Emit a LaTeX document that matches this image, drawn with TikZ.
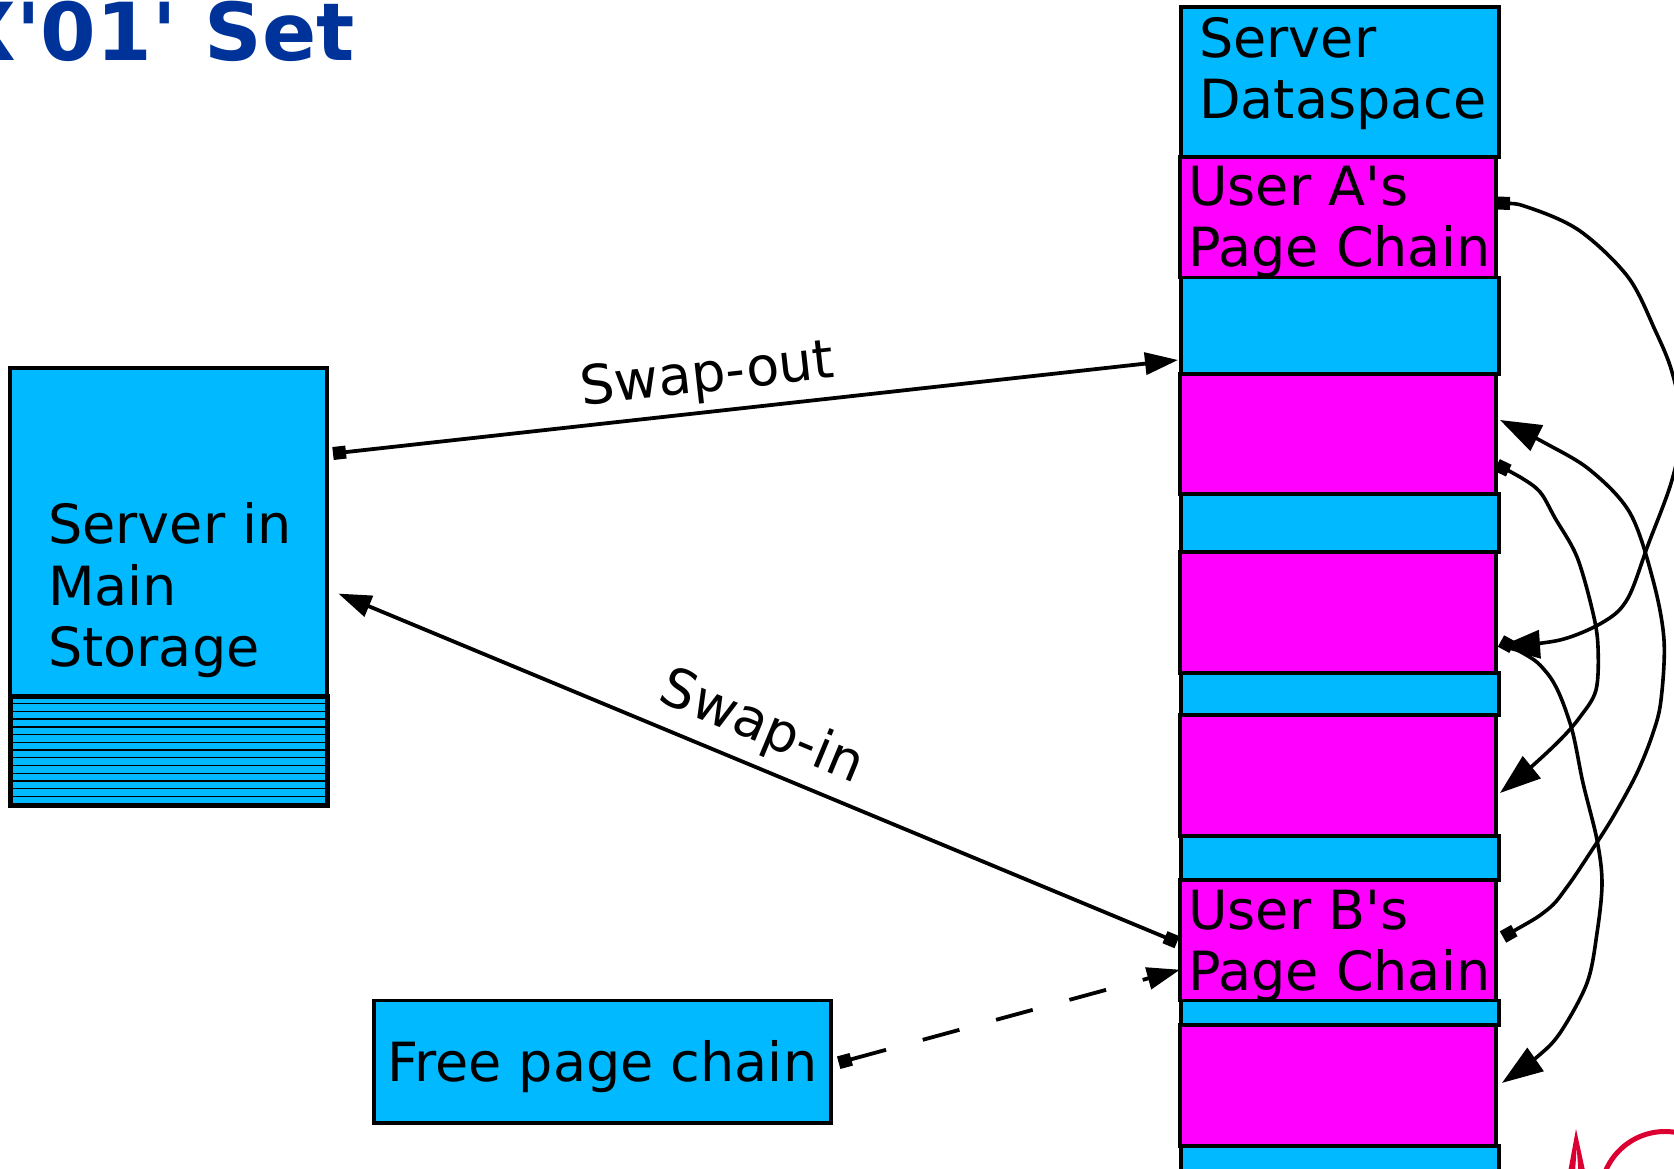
\documentclass[tikz,border=0pt]{standalone}
\usepackage{fontspec}
\newfontfamily\dejavu{DejaVu Sans}
\usetikzlibrary{arrows.meta,calc}
\definecolor{cellblue}{HTML}{00B9FF}
\definecolor{cellpink}{HTML}{FF00FF}
\definecolor{titleblue}{HTML}{003399}
\definecolor{logored}{HTML}{DC0032}
\begin{document}
\begin{tikzpicture}[x=1pt,y=-1pt,
  every node/.style={font=\dejavu\fontsize{54}{61.3}\selectfont},
  cell/.style={draw=black, line width=3.8pt, inner sep=0pt, outer sep=0pt,
    minimum width=318pt, anchor=north west},
  bluecell/.style={cell, fill=cellblue},
  pinkcell/.style={cell, fill=cellpink, minimum width=316pt},
  celltext/.style={inner sep=0pt, anchor=base west, align=left},
  swaplabel/.style={inner sep=0pt, sloped},
  link/.style={line width=3.8pt,
    {Square[length=13pt,width=13pt]}-{Triangle[length=33pt,width=22pt]}},
  chain/.style={line width=3.6pt,
    {Square[length=13pt,width=13pt]}-{Triangle[length=41pt,width=28pt]}},
  stripe/.style={line width=1.4pt, black},
]
\useasboundingbox (0,0) rectangle (1674,1169);
\begin{scope}
\clip (0,0) rectangle (1674,1169);

% heading
\node[anchor=base east, inner sep=0pt, text=titleblue,
  font=\dejavu\bfseries\fontsize{80}{90}\selectfont] (title) at (355,61) {X'01' Set};

% server dataspace column
\node[bluecell, minimum height=150pt]   (ds) at (1181,7) {};
\node[bluecell, minimum height=96.2pt]  (g1) at (1181,277.5) {};
\node[bluecell, minimum height=57.7pt]  (g2) at (1181,494.3) {};
\node[bluecell, minimum height=42.7pt]  (g3) at (1181,672.6) {};
\node[bluecell, minimum height=43.7pt]  (g4) at (1181,836) {};
\node[bluecell, minimum height=24.5pt]  (g5) at (1181,1000.4) {};
\node[bluecell, minimum height=60pt]    (g6) at (1181,1145.6) {};
\node[pinkcell, minimum height=120.5pt] (ua)  at (1180,157) {};
\node[pinkcell, minimum height=120.6pt] (pg2) at (1180,373.7) {};
\node[pinkcell, minimum height=120.6pt] (pg3) at (1180,552) {};
\node[pinkcell, minimum height=120.7pt] (pg4) at (1180,715.3) {};
\node[pinkcell, minimum height=120.7pt] (ub)  at (1180,879.7) {};
\node[pinkcell, minimum height=120.7pt] (pg5) at (1180,1024.9) {};
% multi-line labels are anchored at the baseline of their last line
\node[celltext] (dstext) at (1199,119) {Server\\Dataspace};
\node[celltext] (uatext) at (1188,266.5) {User A's\\Page Chain};
\node[celltext] (ubtext) at (1188,990.5) {User B's\\Page Chain};

% server in main storage
\node[draw=black, line width=3.8pt, fill=cellblue, inner sep=0pt, outer sep=0pt,
  minimum width=317pt, minimum height=328pt, anchor=north west] (main) at (10,368) {};
\node[celltext] (maintext) at (48,666.5) {Server in\\Main\\Storage};
\node[draw=black, line width=5pt, fill=cellblue, inner sep=0pt, outer sep=0pt,
  minimum width=317pt, minimum height=109.5pt, anchor=north west] (store) at (10,696) {};
\foreach \i in {1,...,13}
  \draw[stripe] ([yshift=-7.72*\i pt]store.north west) -- ([yshift=-7.72*\i pt]store.north east);
\draw[line width=5pt] (store.north west) rectangle (store.south east);

% free page chain
\node[draw=black, line width=3.8pt, fill=cellblue, inner sep=0pt, outer sep=0pt,
  minimum width=457pt, minimum height=122.6pt, text height=52pt, text depth=12.4pt,
  anchor=north west] (free) at (373.7,1000.4) {Free page chain};

% swapping
\draw[link] ($(main.north east)+(6,85.5)$) --
  node[swaplabel, pos=0.448, above=7pt] {Swap-out}
  ($(g1.north west)+(-3,82.5)$);
\draw[line width=3.8pt, {Triangle[length=33pt,width=22pt]}-{Square[length=13pt,width=13pt]}]
  ($(main.north east)+(11.4,225.6)$) --
  node[swaplabel, pos=0.487, above=10pt] {Swap-in}
  ($(ub.north west)+(-3,62.5)$);
\draw[link, dash pattern=on 38pt off 38pt]
  ($(free.east)+(8,1)$) -- ($(ub.north west)+(0,90)$);

% page chain links
\coordinate (a1) at ($(ua.north east)+(1,46)$);
\coordinate (a2) at ($(pg3.north east)+(3,95)$);
\coordinate (a3) at ($(pg3.north east)+(5,89)$);
\coordinate (a4) at ($(pg5.north east)+(6,58)$);
\coordinate (b1) at ($(ub.north east)+(7,57.3)$);
\coordinate (b2) at ($(pg2.north east)+(4,46.3)$);
\coordinate (b3) at ($(pg2.north east)+(1,91.3)$);
\coordinate (b4) at ($(pg4.north east)+(4,77.7)$);

\draw[chain] plot[smooth, tension=0.55] coordinates {(a1) (1530,208) (1580,231) (1628,277)
  (1655,330) (1672,372) (1682,425) (1672,480) (1648,545) (1628,598) (1605,621)
  (1560,640) (a2)};
\draw[chain] plot[smooth, tension=0.55] coordinates {(a3) (1547,673) (1570,723) (1583,783)
  (1597,840) (1602,883) (1597,933) (1587,983) (1560,1033) (1537,1057) (a4)};
\draw[chain] plot[smooth, tension=0.55] coordinates {(b1) (1547,910) (1567,887) (1590,853)
  (1613,817) (1637,773) (1653,733) (1661,700) (1664,640) (1653,580) (1630,513)
  (1590,470) (1545,443) (b2)};
\draw[chain] plot[smooth, tension=0.55] coordinates {(b3) (1520,477) (1540,492) (1555,518)
  (1577,557) (1593,613) (1598,647) (1596,690) (1580,717) (1560,740) (1530,768) (b4)};

% corner logo
\fill[logored, even odd rule] (1567.5,1175) -- (1576,1129) -- (1586,1175) -- cycle
  (1574.8,1175) -- (1576.7,1147) -- (1578.6,1175) -- cycle;
\draw[logored, line width=5pt] (1665,1196) circle[radius=64.5];
\end{scope}
\end{tikzpicture}
\end{document}
